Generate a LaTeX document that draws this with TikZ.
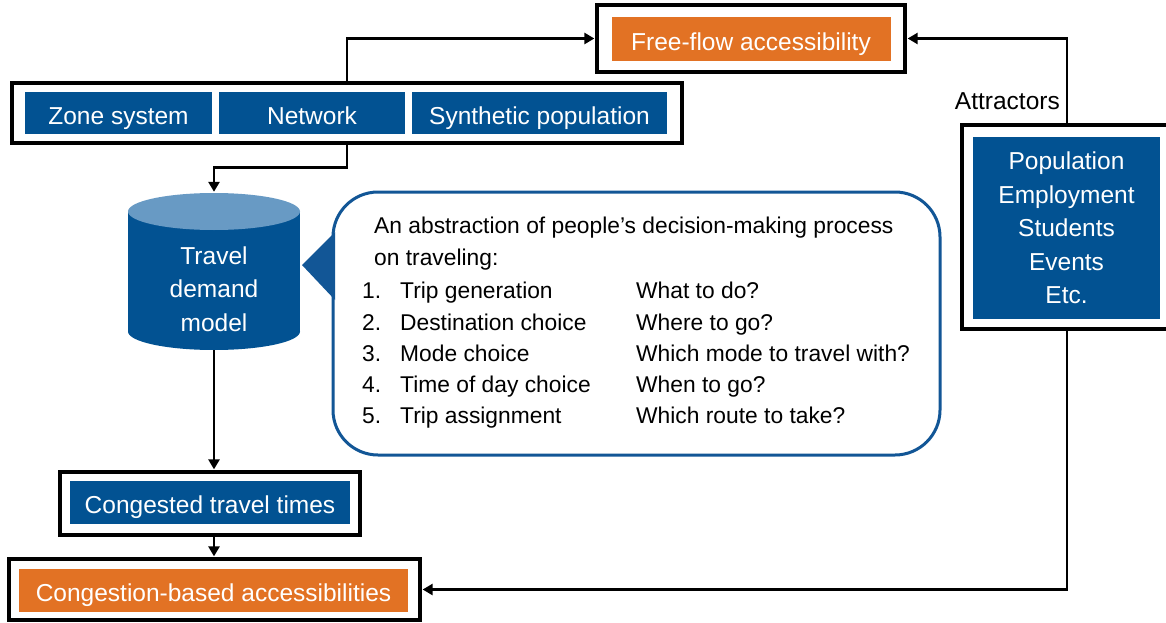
\documentclass[tikz,border=0pt]{standalone}
\usepackage{fontspec}
\setmainfont{Liberation Sans}
\usetikzlibrary{arrows.meta}
\definecolor{boxblue}{RGB}{2,82,146}
\definecolor{topblue}{RGB}{104,154,196}
\definecolor{boxorange}{RGB}{226,114,36}
\definecolor{noteblue}{RGB}{18,86,150}
\begin{document}
\begin{tikzpicture}[x=1pt,y=-1pt,
  frame/.style={draw=black, line width=3.3pt, fill=white, rectangle, inner sep=0pt},
  fillbox/.style={rectangle, inner sep=0pt, text=white, font=\fontsize{24.5}{33.5}\selectfont, align=center},
  oneline/.style={text height=23pt, text depth=0pt},
  bluebox/.style={fillbox, fill=boxblue},
  orangebox/.style={fillbox, fill=boxorange},
  conn/.style={line width=2.5pt, -{Triangle[length=10pt,width=11pt]}, shorten >=1pt},
  notetext/.style={anchor=base west, inner sep=0pt, font=\fontsize{22.8}{28}\selectfont},
]
\useasboundingbox (0,0) rectangle (1166,623);

% free-flow accessibility
\node[frame, minimum width=308pt, minimum height=67pt] (ffo) at (751,38.5) {};
\node[orangebox, oneline, minimum width=279pt, minimum height=44pt] (ff) at (751,39.5) {Free-flow accessibility};

% inputs row
\node[frame, minimum width=670pt, minimum height=60pt] (row) at (347,113) {};
\node[bluebox, oneline, minimum width=187pt, minimum height=42pt] (zone) at (118.5,113) {Zone system};
\node[bluebox, oneline, minimum width=186pt, minimum height=42pt] (netw) at (312,113) {Network};
\node[bluebox, oneline, minimum width=255pt, minimum height=42pt] (synpop) at (539.5,113) {Synthetic population};

% travel demand model cylinder
\node[minimum width=172pt, minimum height=157pt, inner sep=0pt] (tdm) at (214,271.5) {};
\fill[boxblue] (128,211.5) rectangle (300,331.5);
\fill[boxblue] (214,331.5) ellipse [x radius=86, y radius=18.5];
\fill[topblue] (214,211.5) ellipse [x radius=86, y radius=18.5];
\node[fillbox] (tdmtext) at (214,289) {Travel\\demand\\model};

% callout with the model steps
\node[draw=noteblue, line width=3pt, fill=white, rounded corners=45pt,
      minimum width=607pt, minimum height=263pt, inner sep=0pt] (note) at (636.5,323.5) {};
\fill[noteblue] (335,232) -- (302,265) -- (335,300) -- cycle;
\node[notetext] (n0) at (374,233) {An abstraction of people’s decision-making process};
\node[notetext] (n00) at (374,265) {on traveling:};
\node[notetext] (k1) at (362,298) {1.};
\node[notetext] (k2) at (362,330) {2.};
\node[notetext] (k3) at (362,361) {3.};
\node[notetext] (k4) at (362,392) {4.};
\node[notetext] (k5) at (362,423) {5.};
\node[notetext] (s1) at (400,298) {Trip generation};
\node[notetext] (s2) at (400,330) {Destination choice};
\node[notetext] (s3) at (400,361) {Mode choice};
\node[notetext] (s4) at (400,392) {Time of day choice};
\node[notetext] (s5) at (400,423) {Trip assignment};
\node[notetext] (q1) at (636,298) {What to do?};
\node[notetext] (q2) at (636,330) {Where to go?};
\node[notetext] (q3) at (636,361) {Which mode to travel with?};
\node[notetext] (q4) at (636,392) {When to go?};
\node[notetext] (q5) at (636,423) {Which route to take?};

% congested travel times
\node[frame, minimum width=300pt, minimum height=63pt] (cgo) at (210,503.5) {};
\node[bluebox, oneline, minimum width=280pt, minimum height=43pt] (cg) at (210,502) {Congested travel times};

% congestion-based accessibilities
\node[frame, minimum width=411pt, minimum height=61pt] (cbo) at (214.5,589.5) {};
\node[orangebox, oneline, minimum width=389pt, minimum height=43pt] (cb) at (213.5,590) {Congestion-based accessibilities};

% attractors
\node[frame, minimum width=210pt, minimum height=204pt] (atto) at (1067,227) {};
\node[bluebox, minimum width=187pt, minimum height=182pt] (att) at (1066.5,228)
  {Population\\Employment\\Students\\Events\\Etc.};
\node[anchor=east, inner sep=0pt, font=\fontsize{24.5}{28}\selectfont] (attlabel) at (1060,101) {Attractors};

% connectors
\draw[conn] (row.north) |- (ffo.west);
\draw[conn] (row.south) -- ++(0,23) -| (tdm.north);
\draw[conn] (tdm.south) -- (tdm.south |- cgo.north);
\draw[conn] (tdm.south |- cgo.south) -- (tdm.south |- cbo.north);
\draw[conn] (atto.north) |- (ffo.east);
\draw[conn] (atto.south) |- (cbo.east);
\end{tikzpicture}
\end{document}
